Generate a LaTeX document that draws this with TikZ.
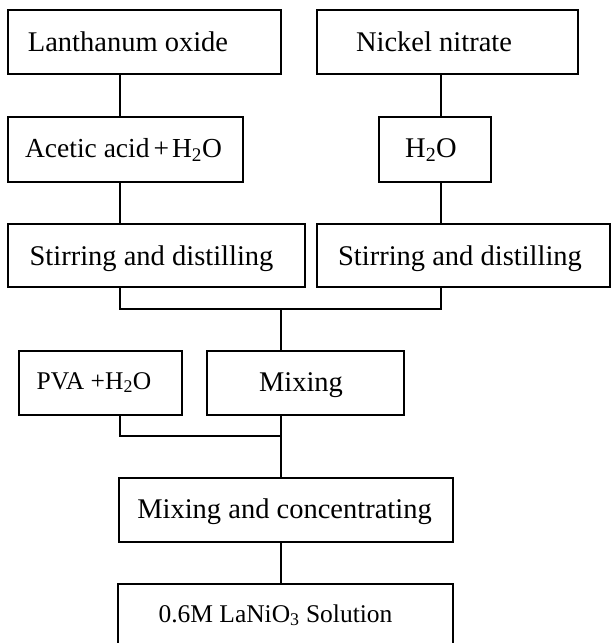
\documentclass[tikz,border=0pt]{standalone}
\usepackage{fontspec}
\setmainfont{Liberation Serif}
\usetikzlibrary{fit}
\begin{document}
\begin{tikzpicture}[x=1pt,y=-1pt,
  box/.style={draw, line width=2pt, inner sep=0pt, rectangle},
  lbl/.style={inner sep=0pt, anchor=base, font=\fontsize{28.5}{34}\selectfont},
  small/.style={font=\fontsize{25.5}{30}\selectfont},
  link/.style={line width=2pt}]
\useasboundingbox (0,0) rectangle (611,643);
% boxes
\node[box, fit={(8,10) (281,74)}] (la) {};
\node[box, fit={(317,10) (578,74)}] (ni) {};
\node[box, fit={(8,117) (243,182)}] (ac) {};
\node[box, fit={(379,117) (491,182)}] (wa) {};
\node[box, fit={(8,224) (305,287)}] (sl) {};
\node[box, fit={(317,224) (610,287)}] (sr) {};
\node[box, fit={(19,351) (182,415)}] (pva) {};
\node[box, fit={(207,351) (404,415)}] (mix) {};
\node[box, fit={(119,478) (453,542)}] (mc) {};
\node[box, fit={(118,584) (453,652)}] (sol) {};
% labels
\node[lbl] (tla) at (128,51) {Lanthanum oxide};
\node[lbl] (tni) at (434,51) {Nickel nitrate};
\node[lbl, font=\fontsize{27.5}{33}\selectfont] (tac) at (123.5,157) {Acetic acid\hspace{4pt}+\hspace{3pt}H\textsubscript{2}O};
\node[lbl] (twa) at (431,157) {H\textsubscript{2}O};
\node[lbl] (tsl) at (151.5,265) {Stirring and distilling};
\node[lbl] (tsr) at (460,265) {Stirring and distilling};
\node[lbl, small] (tpva) at (94,389) {PVA +H\textsubscript{2}O};
\node[lbl] (tmix) at (301,391) {Mixing};
\node[lbl] (tmc) at (284.5,518) {Mixing and concentrating};
\node[lbl, small] (tsol) at (275.5,622) {0.6M LaNiO\textsubscript{3} Solution};
% connector guides
\coordinate (L) at (120,0);
\coordinate (R) at (441,0);
\coordinate (C) at (280.5,0);
\coordinate (busL) at (120,309);
\coordinate (busR) at (441,309);
\coordinate (busC) at (280.5,309);
\coordinate (pvaL) at (119.5,436);
\coordinate (pvaC) at (280.5,436);
% connectors
\draw[link] (la.south -| L) -- (ac.north -| L);
\draw[link] (ac.south -| L) -- (sl.north -| L);
\draw[link] (ni.south -| R) -- (wa.north -| R);
\draw[link] (wa.south -| R) -- (sr.north -| R);
\draw[link] (sl.south -| L) -- (busL) -- (busR) -- (sr.south -| R);
\draw[link] (busC) -- (mix.north -| C);
\draw[link] (pva.south -| pvaL) -- (pvaL) -- (pvaC);
\draw[link] (mix.south -| C) -- (mc.north -| C);
\draw[link] (mc.south -| C) -- (sol.north -| C);
\end{tikzpicture}
\end{document}
